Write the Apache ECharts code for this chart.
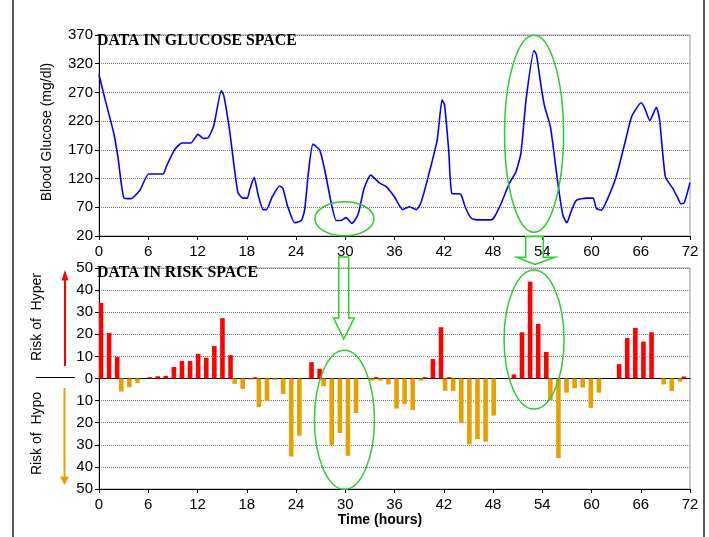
<!DOCTYPE html>
<html><head><meta charset="utf-8">
<script src="https://cdn.jsdelivr.net/npm/echarts@6/dist/echarts.min.js"></script>
<style>html,body{margin:0;padding:0;background:#fff}#c{width:709px;height:537px}</style>
</head><body><div id="c"></div>
<script>
// ---- Data ----
const glucoseHours = [0,0.7,1.8,2.3,3.05,3.9,5.0,6.05,7.8,8.2,9.2,10.1,11.2,12.06,12.7,13.3,14.0,14.9,15.2,15.9,16.9,17.5,18.07,18.35,18.9,19.4,20.0,20.4,21.1,22.0,22.4,23.0,23.84,24.65,25.05,25.5,26.07,26.9,27.5,28.3,28.9,29.5,30.1,30.8,31.55,32.3,33.1,34.2,35.0,36.0,37.0,37.8,38.65,39.2,40.1,41.2,41.8,42.1,42.6,43.0,44.05,44.6,45.35,46.2,47.8,48.2,49.0,50.0,50.8,51.4,52.05,53.0,53.3,53.9,54.3,55.0,55.9,56.5,57.0,57.5,58.15,59.4,60.2,60.6,61.2,62.0,63.0,64.0,64.9,66.06,66.5,67.1,67.9,68.3,69.0,69.9,70.45,70.9,71.3,72];
const glucoseValues = [301,260,199,158,86,85,100,128,128,141,170,182,182,197,190,191,213,273,265,205,97,86,86,100,122,91,66,66,88,107,103,71,43,47,65,129,180,169,135,77,47,47,52,42,57,103,126,112,106,88,66,71,66,77,123,187,257,248,170,94,93,71,51,48,48,54,77,112,132,164,260,343,335,277,245,210,112,57,43,62,82,86,86,68,65,86,123,178,228,252,242,221,244,222,123,103,88,76,78,113];

const riskHours = ['0','1','2','3','4','5','6','7','8','9','10','11','12','13','14','15','16','17','18','19','20','21','22','23','24','25','26','27','28','29','30','31','32','33','34','35','36','37','38','39','40','41','42','43','44','45','46','47','48','49','50','51','52','53','54','55','56','57','58','59','60','61','62','63','64','65','66','67','68','69','70','71','72'];
const hyperRisk = [34.2,20.6,9.7,0,0,0,0.6,1.0,1.2,5.2,7.9,7.9,11.2,9.4,14.7,27.3,10.6,0,0,0.5,0,0,0,0,0,0,7.4,4.4,0,0,0,0,0,0,0.6,0,0,0,0,0,0.6,8.8,23.2,0.6,0,0,0,0,0,0,0,1.8,20.9,43.8,24.7,12,0,0,0,0,0,0,0,0,6.5,18.3,22.9,16.7,20.9,0,0,0,0.9];
const hypoRisk  = [0,0,5.9,3.9,2,0,0,0,0,0,0,0,0,0,0,0,2.4,4.7,0.5,12.9,10.2,0.6,7,35.3,25.9,0,0,3.5,30.2,24.7,35,15.6,0,1,1,2.7,13.6,11.5,14.2,1,0,0,5.6,5.6,20.2,29.8,27.4,28.6,16.8,0,0,0,0,0,0,10,36,6.4,4.4,4.1,13.3,6.4,0,0,0,0,0,0,0,2.7,5.6,1.4,0];

// annotation ellipses in data coordinates
const glucoseEllipses = [[29.9, 50], [53.0, 198]];
const riskEllipses = [[29.9, -18.7], [53.0, 17.6]];

const chart = echarts.init(document.getElementById('c'), null, {renderer:'canvas'});
const sans = 'Liberation Sans, Arial, sans-serif';
const serif = 'Liberation Serif, Times New Roman, serif';
const grid = (top, h) => ({left:99, top:top, width:591, height:h, show:true, borderColor:'#9a9a9a', borderWidth:1, backgroundColor:'transparent'});
const valX = (gi) => ({gridIndex:gi, type:'value', min:0, max:72, interval:6, position:'bottom',
  axisLine:{onZero:false, lineStyle:{color:'#000', width:1}},
  axisTick:{show:true, length:4, lineStyle:{color:'#000'}},
  axisLabel:{fontSize:15, color:'#000', fontFamily:sans, margin:8},
  splitLine:{show:false}});
const grey = {type:'dotted', color:'#7a7a7a', width:1};

chart.setOption({
  animation:false,
  backgroundColor:'#fff',
  title:[
    {text:'DATA IN GLUCOSE SPACE', left:97, top:33, padding:0, textStyle:{fontFamily:serif, fontWeight:'bold', fontSize:15.8, color:'#000'}},
    {text:'DATA IN RISK SPACE', left:97, top:265, padding:0, textStyle:{fontFamily:serif, fontWeight:'bold', fontSize:15.8, color:'#000'}}
  ],
  grid:[grid(35, 201), grid(268, 221)],
  xAxis:[
    valX(0),
    valX(1),
    {gridIndex:1, type:'category', data:riskHours, position:'bottom', boundaryGap:true,
     axisLine:{show:true, onZero:true, lineStyle:{color:'#000', width:1}},
     axisTick:{show:false}, axisLabel:{show:false}, splitLine:{show:false}}
  ],
  yAxis:[
    {gridIndex:0, type:'value', min:20, max:370, interval:50,
     axisLine:{show:true, onZero:false, lineStyle:{color:'#000'}},
     axisTick:{show:true, length:4, lineStyle:{color:'#000'}},
     axisLabel:{fontSize:15, color:'#000', fontFamily:sans, margin:6},
     splitLine:{show:true, lineStyle:grey}},
    {gridIndex:1, type:'value', min:-50, max:50, interval:10,
     axisLine:{show:true, onZero:false, lineStyle:{color:'#000'}},
     axisTick:{show:true, length:4, lineStyle:{color:'#000'}},
     axisLabel:{fontSize:15, color:'#000', fontFamily:sans, margin:6, formatter:v => String(Math.abs(v))},
     splitLine:{show:true, lineStyle:grey}}
  ],
  series:[
    {type:'line', xAxisIndex:0, yAxisIndex:0, data:glucoseHours.map((h,i)=>[h, glucoseValues[i]]),
     smooth:0.18, showSymbol:false, lineStyle:{color:'#0000ff', width:1.6}, z:3},
    {type:'bar', name:'hyper', xAxisIndex:2, yAxisIndex:1, data:hyperRisk, barWidth:4.6, barGap:'-12%',
     itemStyle:{color:'#ff0000'}},
    {type:'bar', name:'hypo', xAxisIndex:2, yAxisIndex:1, data:hypoRisk.map(v => -v), barWidth:4.6, barGap:'-12%',
     itemStyle:{color:'#e8a000'}}
  ]
});

const green = '#2ecc2e';
const g = [];
glucoseEllipses.forEach((c, i) => {
  const p = chart.convertToPixel({xAxisIndex:0, yAxisIndex:0}, c);
  const r = i === 0 ? [29.5, 17] : [29.5, 98.5];
  g.push({type:'ellipse', shape:{cx:p[0], cy:p[1], rx:r[0], ry:r[1]}, style:{fill:null, stroke:green, lineWidth:1.5}, z:10});
});
riskEllipses.forEach((c) => {
  const p = chart.convertToPixel({xAxisIndex:1, yAxisIndex:1}, c);
  g.push({type:'ellipse', shape:{cx:p[0], cy:p[1], rx:30, ry:69.5}, style:{fill:null, stroke:green, lineWidth:1.5}, z:10});
});
// hollow green arrows
g.push({type:'polygon', shape:{points:[[338.7,257],[348.7,257],[348.7,318],[354.3,318],[343.7,339],[333.7,318],[338.7,318]]}, style:{fill:null, stroke:green, lineWidth:1.5}, z:10});
g.push({type:'polygon', shape:{points:[[525.7,236.5],[543.3,236.5],[543.3,257.3],[555,257.3],[535,264.5],[516.7,257.3],[525.7,257.3]]}, style:{fill:null, stroke:green, lineWidth:1.5}, z:10});
// axis titles
g.push({type:'text', x:47, y:132, rotation:Math.PI/2, style:{text:'Blood Glucose (mg/dl)', fontSize:14, fontFamily:sans, fill:'#000', align:'center', verticalAlign:'middle'}});
g.push({type:'text', x:37, y:317, rotation:Math.PI/2, style:{text:'Risk of  Hyper', fontSize:14, fontFamily:sans, fill:'#000', align:'center', verticalAlign:'middle'}});
g.push({type:'text', x:37, y:433.5, rotation:Math.PI/2, style:{text:'Risk of  Hypo', fontSize:14, fontFamily:sans, fill:'#000', align:'center', verticalAlign:'middle'}});
g.push({type:'text', x:380, y:520, style:{text:'Time (hours)', fontSize:14, fontWeight:'bold', fontFamily:sans, fill:'#000', align:'center', verticalAlign:'middle'}});
// separator
g.push({type:'line', shape:{x1:36, y1:377.5, x2:75, y2:377.5}, style:{stroke:'#000', lineWidth:1}});
// red up arrow
g.push({type:'line', shape:{x1:65, y1:366, x2:65, y2:279}, style:{stroke:'#ff0000', lineWidth:2}});
g.push({type:'polygon', shape:{points:[[61.5,280.5],[68.5,280.5],[65,270]]}, style:{fill:'#ff0000'}});
// orange down arrow
g.push({type:'line', shape:{x1:64.5, y1:388, x2:64.5, y2:477}, style:{stroke:'#e8a000', lineWidth:2}});
g.push({type:'polygon', shape:{points:[[60,476.5],[69,476.5],[64.5,485]]}, style:{fill:'#e8a000'}});
// outer frame
g.push({type:'line', shape:{x1:13, y1:0, x2:13, y2:537}, style:{stroke:'#222', lineWidth:1.5}});
g.push({type:'line', shape:{x1:704, y1:0, x2:704, y2:537}, style:{stroke:'#222', lineWidth:1.5}});
chart.setOption({graphic:g});
</script></body></html>
